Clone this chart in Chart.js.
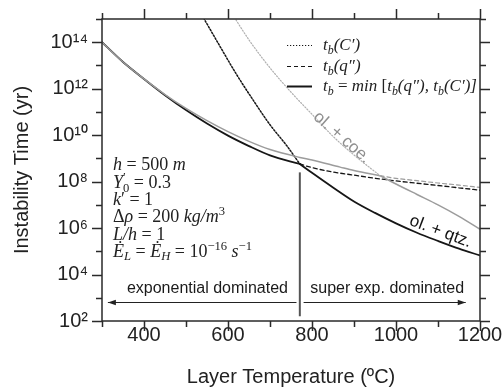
<!DOCTYPE html>
<html><head><meta charset="utf-8">
<script src="https://cdn.jsdelivr.net/npm/chart.js@4.4.0/dist/chart.umd.min.js"></script>
<style>html,body{margin:0;padding:0;background:#fff;}</style>
</head><body>
<canvas id="c" width="502" height="392"></canvas>
<script>
// ---------- data ----------
const X_TITLE = 'Layer Temperature (ºC)';
const Y_TITLE = 'Instability Time (yr)';
const X_TICKS = [300, 400, 500, 600, 700, 800, 900, 1000, 1100, 1200];
const X_TICK_LABELS = ['', '400', '', '600', '', '800', '', '1000', '', '1200'];
const Y_EXPONENTS = [2, 3, 4, 5, 6, 7, 8, 9, 10, 11, 12, 13, 14, 15];
const Y_TICK_LABELS = ['10²', '', '10⁴', '', '10⁶', '', '10⁸', '', '10¹⁰', '', '10¹²', '', '10¹⁴', ''];

// ol. + qtz.  t_b = min[...]  (exponential branch, then super-exponential branch)
const T_QTZ_MIN_A = [300, 350, 400, 450, 500, 550, 600, 650, 700, 771];
const QTZ_MIN_A = [1e14, 1.41e13, 2.63e12, 5.25e11, 1.2e11, 3.16e10, 9.55e9, 3.39e9, 1.35e9, 5.75e8];
const T_QTZ_MIN_B = [771, 800, 850, 900, 950, 1000, 1050, 1100, 1150, 1200];
const QTZ_MIN_B = [5.75e8, 2.4e8, 5.6e7, 1.4e7, 4.5e6, 1.6e6, 6.3e5, 2.8e5, 1.3e5, 6.6e4];
// ol. + qtz.  t_b(C')
const T_QTZ_C = [530, 580, 620, 660, 700, 740, 771];
const QTZ_C = [2.6e15, 7.1e13, 4.2e12, 3.2e11, 2.8e10, 3.5e9, 5.75e8];
// ol. + qtz.  t_b(q'')
const T_QTZ_Q = [771, 800, 850, 900, 950, 1000, 1050, 1100, 1150, 1200];
const QTZ_Q = [5.75e8, 4e8, 2.6e8, 1.9e8, 1.4e8, 1.07e8, 8.5e7, 6.8e7, 5.4e7, 4.3e7];

// ol. + coe.  t_b = min[...]
const T_COE_MIN_A = [300, 350, 400, 450, 500, 550, 600, 650, 700, 771, 800, 867, 900, 962];
const COE_MIN_A = [1e14, 1.41e13, 2.63e12, 5.6e11, 1.41e11, 4.2e10, 1.41e10, 5.4e9, 2.4e9, 1.1e9, 8.5e8, 4.2e8, 3e8, 1.8e8];
const T_COE_MIN_B = [962, 1000, 1050, 1100, 1150, 1200];
const COE_MIN_B = [1.8e8, 7.9e7, 2.8e7, 1e7, 3.2e6, 8.9e5];
// ol. + coe.  t_b(C')
const T_COE_C = [600, 650, 700, 750, 800, 850, 900, 962];
const COE_C = [3.2e15, 1.26e14, 7.9e12, 7.1e11, 7.9e10, 8.9e9, 1.4e9, 1.8e8];
// ol. + coe.  t_b(q'')
const T_COE_Q = [962, 1000, 1050, 1100, 1150, 1200];
const COE_Q = [1.8e8, 1.38e8, 1.1e8, 8.7e7, 7.1e7, 5.6e7];

const DIVIDE_T = 771;
const DIVIDE_TOP = 2.5e8, DIVIDE_BOTTOM = 1.6e2;
const ARROW_Y = 6.5e2;
const ARROW_LEFT = [314, 763];
const ARROW_RIGHT = [780, 1166];
const REGION_LABELS = ['exponential dominated', 'super exp. dominated'];
const CURVE_LABELS = ['ol. + coe.', 'ol. + qtz.'];

// legend entries (rich text: [text, style])
const LEGEND_ITEMS = [
  {dash: [1.2, 1.8], text: [['t','i'],['b','si'],['(C′)','i']]},
  {dash: [4, 3], text: [['t','i'],['b','si'],['(q″)','i']]},
  {dash: [], text: [['t','i'],['b','si'],[' = ','r'],['min','i'],[' [','r'],['t','i'],['b','si'],['(q″), ','i'],['t','i'],['b','si'],['(C′)]','i']]}
];
const PARAM_LINES = [
  [['h','i'],[' = 500 ','r'],['m','i']],
  [['Y','i'],['′','pr'],['0','sb'],[' = 0.3','r']],
  [['k','i'],['′','r'],[' = 1','r']],
  [['Δ','r'],['ρ','i'],[' = 200 ','r'],['kg/m','i'],['3','pr']],
  [['L/h','i'],[' = 1','r']],
  [['Ė','i'],['L','si'],[' = ','r'],['Ė','i'],['H','si'],[' = 10','r'],['−16','pr'],[' ','r'],['s','i'],['−1','pr']]
];

// ---------- helpers ----------
const pts = (xs, ys) => xs.map((x, i) => ({x, y: ys[i]}));
const BLACK = '#161616', GREY = '#9c9c9c', GREY_LIGHT = '#b0b0b0';
const SERIF = '"Liberation Serif", "DejaVu Serif", serif';
const SANS = '"Liberation Sans", Arial, sans-serif';

function drawRich(ctx, x, y, segs, size, color) {
  ctx.save();
  ctx.fillStyle = color;
  ctx.textBaseline = 'alphabetic';
  ctx.textAlign = 'left';
  let cx = x, lastStart = x;
  for (const [t, st] of segs) {
    let fs = size, dy = 0, it = false, back = false;
    if (st === 'i') it = true;
    else if (st === 'si') { fs = size * 0.7; dy = size * 0.22; it = true; }
    else if (st === 'sb') { fs = size * 0.7; dy = size * 0.25; back = true; }
    else if (st === 'pr') { fs = size * 0.7; dy = -size * 0.38; }
    ctx.font = (it ? 'italic ' : '') + fs + 'px ' + SERIF;
    const start = back ? lastStart : cx;
    ctx.fillText(t, start, y + dy);
    const w = ctx.measureText(t).width;
    if (back) { cx = Math.max(cx, start + w); }
    else { lastStart = cx; cx = start + w; }
  }
  ctx.restore();
}

const decor = {
  id: 'decor',
  afterDatasetsDraw(chart) {
    const {ctx, chartArea: a, scales: {x, y}} = chart;
    ctx.save();
    // frame
    ctx.strokeStyle = '#2a2a2a';
    ctx.lineWidth = 1.5;
    ctx.strokeRect(a.left, a.top, a.right - a.left, a.bottom - a.top);
    // ticks
    ctx.beginPath();
    Y_EXPONENTS.forEach((e, i) => {
      const py = Math.round(y.getPixelForValue(Math.pow(10, e))) + 0.5;
      const len = Y_TICK_LABELS[i] ? 10 : 6;
      ctx.moveTo(a.left - len, py); ctx.lineTo(a.left, py);
      ctx.moveTo(a.right, py); ctx.lineTo(a.right + len, py);
    });
    X_TICKS.forEach((t, i) => {
      const px = Math.round(x.getPixelForValue(t)) + 0.5;
      const len = X_TICK_LABELS[i] ? 10 : 6;
      ctx.moveTo(px, a.bottom); ctx.lineTo(px, a.bottom + len);
      ctx.moveTo(px, a.top); ctx.lineTo(px, a.top - len);
    });
    ctx.stroke();

    // divider
    ctx.strokeStyle = '#555';
    ctx.lineWidth = 2;
    ctx.beginPath();
    const dx = x.getPixelForValue(DIVIDE_T);
    ctx.moveTo(dx, y.getPixelForValue(DIVIDE_TOP));
    ctx.lineTo(dx, y.getPixelForValue(DIVIDE_BOTTOM));
    ctx.stroke();

    // arrows
    const ay = Math.round(y.getPixelForValue(ARROW_Y)) + 0.5;
    ctx.strokeStyle = '#222'; ctx.fillStyle = '#222'; ctx.lineWidth = 1.2;
    const arrow = (x1, x2, headAtLeft) => {
      ctx.beginPath(); ctx.moveTo(x1, ay); ctx.lineTo(x2, ay); ctx.stroke();
      const hx = headAtLeft ? x1 : x2, dir = headAtLeft ? 1 : -1;
      ctx.beginPath();
      ctx.moveTo(hx, ay); ctx.lineTo(hx + dir * 8, ay - 2.8); ctx.lineTo(hx + dir * 8, ay + 2.8);
      ctx.closePath(); ctx.fill();
    };
    arrow(x.getPixelForValue(ARROW_LEFT[0]), x.getPixelForValue(ARROW_LEFT[1]), true);
    arrow(x.getPixelForValue(ARROW_RIGHT[0]), x.getPixelForValue(ARROW_RIGHT[1]), false);

    // region texts
    ctx.font = '16px ' + SANS;
    ctx.fillStyle = '#1a1a1a';
    ctx.textAlign = 'center'; ctx.textBaseline = 'middle';
    ctx.fillText(REGION_LABELS[0], x.getPixelForValue(551), y.getPixelForValue(Math.pow(10, 3.4)));
    ctx.fillText(REGION_LABELS[1], x.getPixelForValue(979), y.getPixelForValue(Math.pow(10, 3.4)));

    // curve labels
    ctx.save();
    ctx.translate(x.getPixelForValue(871), y.getPixelForValue(Math.pow(10, 9.9)));
    ctx.rotate(41 * Math.PI / 180);
    ctx.fillStyle = '#8e8e8e';
    ctx.font = '17px ' + SANS;
    ctx.fillText(CURVE_LABELS[0], 0, 0);
    ctx.restore();
    ctx.save();
    ctx.translate(x.getPixelForValue(1106), y.getPixelForValue(Math.pow(10, 5.85)));
    ctx.rotate(20.5 * Math.PI / 180);
    ctx.fillStyle = '#111';
    ctx.font = '17px ' + SANS;
    ctx.fillText(CURVE_LABELS[1], 0, 0);
    ctx.restore();

    // parameters
    const baseY = [170, 187.5, 205, 222, 239.5, 256.5];
    PARAM_LINES.forEach((ln, i) => drawRich(ctx, 113, baseY[i], ln, 18, '#222'));

    // legend
    const rows = [45, 66, 86];
    LEGEND_ITEMS.forEach((it, i) => {
      ctx.strokeStyle = BLACK; ctx.lineWidth = it.dash.length ? 1.2 : 2;
      ctx.setLineDash(it.dash);
      ctx.beginPath(); ctx.moveTo(287, rows[i] + 0.5); ctx.lineTo(312, rows[i] + 0.5); ctx.stroke();
      ctx.setLineDash([]);
      drawRich(ctx, 323, rows[i] + 5, it.text, 17, '#222');
    });
    ctx.restore();
  }
};

new Chart(document.getElementById('c'), {
  type: 'line',
  data: {
    datasets: [
      {label: 'ol. + coe. t_b(C\')', data: pts(T_COE_C, COE_C), borderColor: GREY_LIGHT, borderWidth: 1.2, borderDash: [1.2, 1.8]},
      {label: 'ol. + coe. t_b(q\'\')', data: pts(T_COE_Q, COE_Q), borderColor: GREY, borderWidth: 1.2, borderDash: [4, 3]},
      {label: 'ol. + coe. t_b = min (a)', data: pts(T_COE_MIN_A, COE_MIN_A), borderColor: GREY, borderWidth: 1.5},
      {label: 'ol. + coe. t_b = min (b)', data: pts(T_COE_MIN_B, COE_MIN_B), borderColor: GREY, borderWidth: 1.5},
      {label: 'ol. + qtz. t_b(C\')', data: pts(T_QTZ_C, QTZ_C), borderColor: BLACK, borderWidth: 1.5, borderDash: [1.5, 1.8]},
      {label: 'ol. + qtz. t_b(q\'\')', data: pts(T_QTZ_Q, QTZ_Q), borderColor: BLACK, borderWidth: 1.3, borderDash: [4, 3]},
      {label: 'ol. + qtz. t_b = min (a)', data: pts(T_QTZ_MIN_A, QTZ_MIN_A), borderColor: BLACK, borderWidth: 1.8},
      {label: 'ol. + qtz. t_b = min (b)', data: pts(T_QTZ_MIN_B, QTZ_MIN_B), borderColor: BLACK, borderWidth: 1.8}
    ]
  },
  options: {
    responsive: false,
    animation: false,
    elements: {point: {radius: 0}, line: {cubicInterpolationMode: 'monotone', fill: false, borderCapStyle: 'round'}},
    layout: {padding: {top: 19, right: 22, left: 0, bottom: 0}},
    plugins: {legend: {display: false}, tooltip: {enabled: false}},
    scales: {
      x: {
        type: 'linear', min: 300, max: 1200,
        afterBuildTicks: s => { s.ticks = X_TICKS.map(v => ({value: v})); },
        afterFit: s => { s.height = 71; s.paddingLeft = 0; s.paddingRight = 0; },
        grid: {display: false, drawTicks: false},
        border: {display: false},
        ticks: {
          padding: 2, color: '#222', font: {family: SANS, size: 20}, maxRotation: 0, autoSkip: false,
          callback: (v, i) => X_TICK_LABELS[i]
        },
        title: {display: true, text: X_TITLE, color: '#222', font: {family: SANS, size: 20}, padding: {top: 0, bottom: 3}}
      },
      y: {
        type: 'logarithmic', min: 1e2, max: 1e15,
        afterBuildTicks: s => { s.ticks = Y_EXPONENTS.map(e => ({value: Math.pow(10, e)})); },
        afterFit: s => { s.width = 102; s.paddingTop = 0; s.paddingBottom = 0; },
        grid: {display: false, drawTicks: false},
        border: {display: false},
        ticks: {
          padding: 14, color: '#222', font: {family: SANS, size: 20}, autoSkip: false,
          callback: (v, i) => Y_TICK_LABELS[i]
        },
        title: {display: true, text: Y_TITLE, color: '#222', font: {family: SANS, size: 20}, padding: {top: 10, bottom: 0}}
      }
    }
  },
  plugins: [decor]
});
</script>
</body></html>
